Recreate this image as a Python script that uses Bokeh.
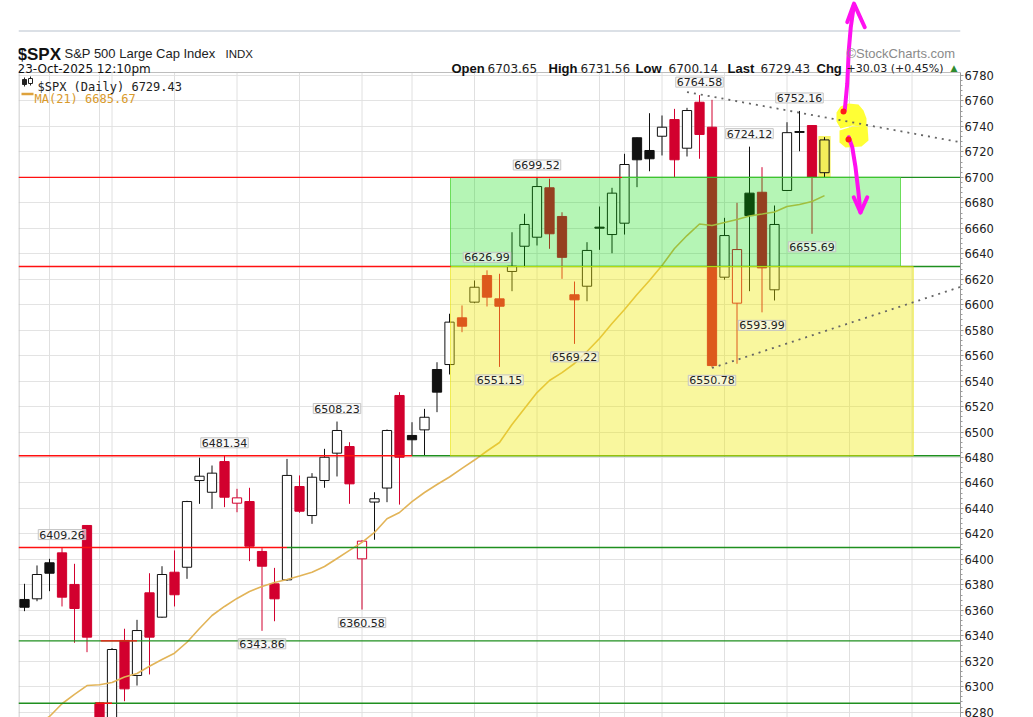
import math
from bokeh.plotting import figure
from bokeh.models import Range1d, Label, SingleIntervalTicker
from bokeh.embed import file_html
from bokeh.resources import INLINE

# ------------------------------------------------------------------ data
# $SPX daily candles, 24-Jul-2025 .. 23-Oct-2025 (bar index 0..64)
opens = [6368.5, 6369.0, 6397.3, 6405.1, 6380.3, 6426.6, 6287.3, 6262.0, 6336.3, 6308.8,
         6373.7, 6354.6, 6389.9, 6393.8, 6461.9, 6452.7, 6476.8, 6444.1, 6445.4, 6406.2,
         6380.8, 6383.9, 6457.2, 6434.4, 6461.9, 6483.4, 6488.6, 6400.4, 6445.0, 6456.0,
         6528.7, 6497.3, 6501.7, 6549.1, 6553.0, 6589.7, 6602.0, 6622.9, 6604.6, 6626.1,
         6645.9, 6653.0, 6691.8, 6669.3, 6607.8, 6614.5, 6660.9, 6655.1, 6664.0, 6731.1,
         6721.1, 6732.3, 6745.4, 6722.9, 6759.0, 6739.4, 6621.6, 6601.2, 6687.6, 6688.3,
         6611.7, 6689.7, 6736.0, 6740.7, 6703.65]
highs = [6380.8, 6395.2, 6400.4, 6409.26, 6396.5, 6427.0, 6288.0, 6330.3, 6345.5, 6352.5,
         6389.1, 6394.6, 6407.0, 6446.0, 6479.8, 6473.7, 6481.34, 6455.4, 6456.2, 6408.8,
         6393.3, 6478.9, 6465.9, 6467.7, 6486.8, 6508.23, 6492.0, 6415.0, 6452.7, 6502.0,
         6531.3, 6507.7, 6518.2, 6554.8, 6592.9, 6599.4, 6619.0, 6626.99, 6624.3, 6656.9,
         6671.4, 6699.52, 6698.9, 6672.6, 6618.2, 6649.1, 6677.1, 6691.8, 6718.5, 6731.3,
         6750.4, 6748.6, 6753.8, 6754.6, 6764.58, 6760.9, 6668.2, 6680.0, 6724.12, 6708.0,
         6677.9, 6743.3, 6752.16, 6741.0, 6731.56]
lows = [6359.3, 6367.1, 6375.0, 6363.0, 6334.5, 6327.1, 6212.7, 6261.0, 6288.6, 6300.9,
        6309.6, 6354.0, 6363.0, 6384.7, 6443.6, 6439.7, 6441.0, 6437.0, 6398.6, 6343.86,
        6351.4, 6383.0, 6436.6, 6427.9, 6456.2, 6465.1, 6443.6, 6360.58, 6415.4, 6444.9,
        6443.0, 6481.3, 6481.3, 6515.6, 6545.2, 6578.4, 6601.2, 6598.6, 6551.15, 6610.6,
        6629.4, 6646.5, 6643.9, 6620.3, 6569.22, 6602.7, 6643.1, 6640.4, 6655.1, 6692.3,
        6704.8, 6717.2, 6699.7, 6716.4, 6714.6, 6550.78, 6619.6, 6553.6, 6610.6, 6593.99,
        6603.3, 6689.5, 6720.5, 6655.69, 6700.14]
closes = [6362.4, 6388.1, 6389.1, 6370.3, 6361.4, 6338.9, 6238.0, 6329.2, 6298.3, 6344.1,
          6338.9, 6388.1, 6372.2, 6445.4, 6465.3, 6467.7, 6448.8, 6448.3, 6410.3, 6394.6,
          6369.0, 6465.9, 6437.8, 6464.5, 6480.2, 6501.2, 6459.3, 6414.3, 6447.6, 6501.2,
          6480.2, 6493.9, 6511.6, 6531.3, 6586.3, 6583.1, 6613.7, 6605.9, 6598.8, 6630.2,
          6663.0, 6692.8, 6655.7, 6637.2, 6603.8, 6642.6, 6660.1, 6687.6, 6710.1, 6713.8,
          6714.6, 6739.4, 6713.8, 6752.5, 6733.7, 6552.2, 6654.3, 6643.3, 6670.0, 6628.9,
          6663.0, 6735.1, 6735.3, 6700.1, 6729.43]
prev_close_before = 6358.9

nan = float("nan")
ma21 = [nan, 6270.0,
        6276.6, 6286.6, 6293.9, 6300.9, 6301.5, 6303.3, 6307.6, 6310.4, 6316.1, 6321.4,
        6326.3, 6334.9, 6345.7, 6355.9, 6363.0, 6369.3, 6374.8, 6378.7, 6381.8, 6384.2,
        6386.9, 6389.9, 6394.4, 6400.7, 6407.0, 6413.3, 6421.1, 6431.9, 6436.8, 6445.4,
        6452.5, 6458.8, 6464.7, 6471.4, 6478.0, 6485.1, 6491.8, 6505.9, 6518.5, 6531.0,
        6540.5, 6546.7, 6553.8, 6563.2, 6573.5, 6585.2, 6596.2, 6608.0, 6619.0, 6630.8,
        6644.1, 6654.3, 6663.4, 6662.2, 6664.5, 6666.9, 6669.7, 6671.2, 6672.8, 6677.1,
        6678.7, 6681.0, 6685.67]

# bars carrying a week / month gridline (future weeks 66, 71)
week_grid_bars = [2, 6, 7, 12, 17, 22, 27, 31, 36, 41, 46, 48, 51, 56, 61, 66, 71]

# annotated swing highs / lows (bar indices)
hi_marks = [3, 16, 25, 37, 41, 54, 58, 62]
lo_marks = [19, 27, 38, 44, 55, 59, 63]

# user-drawn horizontal levels: red part then green part (bar index spans)
sr_levels = [6700.0, 6630.0, 6481.34, 6409.26, 6336.0, 6287.0]
sr_red_from = [-0.48, -0.48, -0.48, -0.48, 6.1, 5.7]
sr_red_to = [47.8, 34.1, 31.0, 21.0, 9.0, 7.0]
sr_green_from = [47.8, 34.1, 31.0, 21.0, -0.48, -0.48]
sr_green_to = [74.88, 74.88, 74.88, 74.88, 74.88, 74.88]

# shaded zones
zone_left = [34.08, 34.08]
zone_right = [70.08, 71.1]
zone_bottom = [6630.0, 6481.34]
zone_top = [6700.0, 6630.0]

# dotted trend lines (bar index, price)
trend_hi_x = [53.0, 74.88]
trend_hi_y = [6767.0, 6727.6]
trend_lo_x = [55.0, 74.88]
trend_lo_y = [6550.3, 6614.0]

# hand markup (bar index, price)
blob_xs = [[65.28, 65.92, 66.72, 67.12, 67.36, 67.36, 66.24, 65.28, 64.96, 64.96],
           [65.2, 66.24, 67.44, 67.52, 66.96, 65.68, 65.2]]
blob_ys = [[6755.7, 6758.0, 6757.2, 6752.5, 6746.2, 6739.2, 6740.7, 6738.4, 6743.9, 6750.9],
           [6736.8, 6739.9, 6739.9, 6729.0, 6724.2, 6723.5, 6727.4]]
arrow_up_x = [65.62, 65.82, 65.94, 66.10, 66.36]
arrow_up_y = [6752.5, 6773.7, 6799.6, 6817.7, 6835.8]
arrow_up_head_x = [65.82, 66.36, 67.22]
arrow_up_head_y = [6821.9, 6836.5, 6817.9]
arrow_dn_x = [65.94, 66.22, 66.48, 66.70, 66.88]
arrow_dn_y = [6731.5, 6723.7, 6708.0, 6689.7, 6672.4]
arrow_dn_head_x = [66.34, 66.88, 67.42]
arrow_dn_head_y = [6684.4, 6672.4, 6684.4]
dot_x = [65.52, 65.92]
dot_y = [6751.7, 6729.7]

header_ohlc = [("Open", "6703.65"), ("High", "6731.56"), ("Low", "6700.14"),
               ("Last", "6729.43"), ("Chg", "+30.03 (+0.45%)")]
last_price = 6729.43
ma_last = 6685.67
highlight_bar = 64

# ------------------------------------------------------------------ layout helpers
BAR_PX = 12.5          # pixels per bar
X0_PX = 24.0           # screen x of bar 0
PX_PER_PT = 1.2733     # pixels per index point
Y_REF_PX, Y_REF = 75.0, 6780.0
W, H = 1033, 717
FRAME_L, FRAME_R = 18, 960


def sx(px):
    return (px - X0_PX) / BAR_PX


def sy(py):
    return Y_REF - (py - Y_REF_PX) / PX_PER_PT


FRAME_TOP = sy(72)
Y_BOTTOM = sy(H)

RED = "#d2002e"
BLACK = "#111111"
GREEN = "#1f8f1f"

p = figure(width=W, height=H,
           x_range=Range1d(sx(FRAME_L), sx(FRAME_R)), y_range=Range1d(Y_BOTTOM, sy(0)),
           y_axis_location="right", x_axis_location=None,
           toolbar_location=None, output_backend="svg", title=None,
           min_border_left=FRAME_L, min_border_right=W - FRAME_R,
           min_border_top=0, min_border_bottom=0)
p.outline_line_color = None
p.background_fill_color = "white"
p.xgrid.visible = False

ticker = SingleIntervalTicker(interval=20, num_minor_ticks=5)
p.yaxis.ticker = ticker
p.yaxis.bounds = (Y_BOTTOM, FRAME_TOP)
p.yaxis.axis_line_color = "#9a9a9a"
p.yaxis.major_tick_line_color = "#9a9a9a"
p.yaxis.minor_tick_line_color = "#9a9a9a"
p.yaxis.major_tick_in = 0
p.yaxis.major_tick_out = 3
p.yaxis.minor_tick_in = 0
p.yaxis.minor_tick_out = 2
p.yaxis.major_label_standoff = 1
p.yaxis.major_label_text_font = "DejaVu Sans"
p.yaxis.major_label_text_font_size = "11.5px"
p.yaxis.major_label_text_color = "#222222"
p.ygrid.ticker = ticker
p.ygrid.bounds = (6280, 6780)
p.ygrid.grid_line_color = "#e3e3e3"

# vertical week / month gridlines
k = len(week_grid_bars)
p.segment(x0=week_grid_bars, y0=[Y_BOTTOM] * k, x1=week_grid_bars, y1=[FRAME_TOP] * k,
          line_color="#e0e0e0", line_width=1)
# frame border (left, top) and page line above header
p.segment(x0=[sx(18.5), sx(18)], y0=[Y_BOTTOM, FRAME_TOP], x1=[sx(18.5), sx(960)],
          y1=[FRAME_TOP, FRAME_TOP], line_color="#bdbdbd", line_width=1)
p.segment(x0=[sx(18)], y0=[sy(30.5)], x1=[sx(960)], y1=[sy(30.5)],
          line_color="#cfd6de", line_width=1.5)

# ------------------------------------------------------------------ candles
n = len(closes)
xs = list(range(n))
prev = [prev_close_before] + closes[:-1]
line_col = [BLACK if c >= pc else RED for c, pc in zip(closes, prev)]
fill_col = [lc if c < o else "#ffffff" for lc, c, o in zip(line_col, closes, opens)]
fill_col[highlight_bar] = "#f3ee5a"
tops = [max(o, c) for o, c in zip(opens, closes)]
bots = [min(o, c) for o, c in zip(opens, closes)]

p.segment(x0=xs, y0=lows, x1=xs, y1=highs, line_color=line_col, line_width=1)
# yellow highlighter on the last bar
p.vbar(x=[highlight_bar], width=0.98, top=[highs[highlight_bar] + 1.0],
       bottom=[lows[highlight_bar] - 0.5], fill_color="#f5f04a", fill_alpha=0.85, line_color=None)
p.segment(x0=[highlight_bar], y0=[lows[highlight_bar]], x1=[highlight_bar], y1=[highs[highlight_bar]],
          line_color=BLACK, line_width=1)
p.vbar(x=xs, width=0.74, top=tops, bottom=bots, fill_color=fill_col,
       line_color=line_col, line_width=1)

# moving average
p.line(xs, ma21, line_color="#e2b458", line_width=1.6)

# green parts of levels (under the zones)
p.segment(x0=sr_green_from, y0=sr_levels, x1=sr_green_to, y1=sr_levels,
          line_color=GREEN, line_width=1.4)

# zones
p.quad(left=zone_left[:1], right=zone_right[:1], bottom=zone_bottom[:1], top=zone_top[:1],
       fill_color="#00dc00", fill_alpha=0.29, line_color="#4fd63a", line_alpha=0.8, line_width=1)
p.quad(left=zone_left[1:], right=zone_right[1:], bottom=zone_bottom[1:], top=zone_top[1:],
       fill_color="#f0ea00", fill_alpha=0.38, line_color="#e8e200", line_alpha=0.6, line_width=1)

# red parts of levels
p.segment(x0=sr_red_from, y0=sr_levels, x1=sr_red_to, y1=sr_levels,
          line_color="#ff1010", line_width=1.4)

# yellow highlighter blob
p.patches(xs=blob_xs, ys=blob_ys, fill_color="#ffff2a", fill_alpha=0.95, line_color=None)

# trend lines
p.line(trend_hi_x, trend_hi_y, line_color="#666666", line_width=1.8, line_dash="2 5")
p.line(trend_lo_x, trend_lo_y, line_color="#666666", line_width=1.8, line_dash="2 5")

# magenta arrows
MAG = "#ff10f0"
for ax, ay in [(arrow_up_x, arrow_up_y), (arrow_up_head_x, arrow_up_head_y),
               (arrow_dn_x, arrow_dn_y), (arrow_dn_head_x, arrow_dn_head_y)]:
    p.line(ax, ay, line_color=MAG, line_width=4, line_cap="round", line_join="round")
p.scatter(dot_x, dot_y, size=6, fill_color="#ff1a1a", line_color=None)

# ------------------------------------------------------------------ annotations
for i in hi_marks:
    p.add_layout(Label(x=i, y=highs[i], text=f"{highs[i]:.2f}", y_offset=8,
                       text_align="center", text_baseline="bottom",
                       text_font="DejaVu Sans", text_font_size="11px", text_color="#222222",
                       background_fill_color="#f7f7f7", background_fill_alpha=0.6,
                       border_line_color="#c4c4c4", padding=1))
for i in lo_marks:
    p.add_layout(Label(x=i, y=lows[i], text=f"{lows[i]:.2f}", y_offset=-8,
                       text_align="center", text_baseline="top",
                       text_font="DejaVu Sans", text_font_size="11px", text_color="#222222",
                       background_fill_color="#f7f7f7", background_fill_alpha=0.6,
                       border_line_color="#c4c4c4", padding=1))

# price tags on the axis
p.add_layout(Label(x=sx(961), y=last_price, text=f"{last_price:.2f}", text_align="left",
                   text_baseline="middle", text_font="DejaVu Sans", text_font_style="bold",
                   text_font_size="11px", text_color="#000000", background_fill_color="white",
                   border_line_color="#000000", border_line_width=1.2, padding=1))
p.add_layout(Label(x=sx(961), y=ma_last, text=f"{ma_last:.2f}", text_align="left",
                   text_baseline="middle", text_font="DejaVu Sans",
                   text_font_size="11px", text_color="#222222", background_fill_color="white",
                   border_line_color="#e0a84a", border_line_width=1.2, padding=1))


def txt(t, px, py, size="12px", font="DejaVu Sans", style="normal", color="#111111"):
    p.add_layout(Label(x=sx(px), y=sy(py), text=t, text_align="left", text_baseline="alphabetic",
                       text_font=font, text_font_size=size, text_font_style=style,
                       text_color=color))


txt("$SPX", 17, 53.5, size="17px", font="Liberation Sans", style="bold", color="#111111")
txt("S&P 500 Large Cap Index", 64, 53, size="13px", font="Liberation Sans", color="#222222")
txt("INDX", 225, 53, size="11.5px", font="Liberation Sans", color="#222222")
txt("23-Oct-2025 12:10pm", 17, 68, size="12px")
txt("©StockCharts.com", 846, 52.5, size="13px", font="Liberation Sans", color="#8a8a8a")

hx = [(451, 487), (548, 580), (635, 668), (727, 760), (816, 846)]
for (lab, val), (lx, vx) in zip(header_ohlc, hx):
    txt(lab, lx, 68, size="13px", font="Liberation Sans", style="bold", color="#111111")
    txt(val, vx, 68, size="11px" if lab == "Chg" else "12px", color="#222222")
txt("▲", 950, 67, size="9px", color="#2e8b2e")

# small candlestick icon before the legend line
p.segment(x0=[sx(24), sx(30)], y0=[sy(86), sy(85)], x1=[sx(24), sx(30)], y1=[sy(77), sy(76)],
          line_color="#222222", line_width=1)
p.quad(left=[sx(22), sx(28)], right=[sx(26), sx(32)], bottom=[sy(84), sy(83)],
       top=[sy(79), sy(78)], fill_color=["#222222", "#ffffff"], line_color="#222222", line_width=1)
txt(f"$SPX (Daily) {closes[-1]:.2f}", 37, 86, size="12px", font="DejaVu Sans Mono", color="#222222")
p.segment(x0=[sx(21)], y0=[sy(93.5)], x1=[sx(33)], y1=[sy(93.5)], line_color="#dea23c", line_width=2.5)
txt(f"MA(21) {ma21[-1]:.2f}", 34, 98, size="12px", font="DejaVu Sans Mono", color="#d99a2b")

open("out.html", "w").write(file_html(p, INLINE))
